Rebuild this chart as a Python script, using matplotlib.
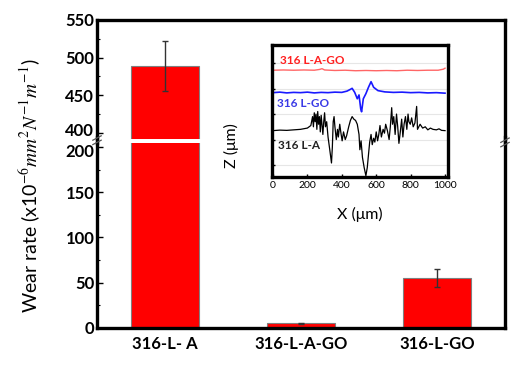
import matplotlib.pyplot as plt
import numpy as np
from matplotlib.lines import Line2D
from matplotlib.transforms import ScaledTranslation

plt.rcParams["font.family"] = ["Lato", "DejaVu Sans"]
plt.rcParams["mathtext.fontset"] = "stix"

# bar data
samples = ["316-L- A", "316-L-A-GO", "316-L-GO"]
wear_rate = [489, 5, 55]
wear_err = [33, 1, 10]

# inset surface profiles (X in um, Z in arbitrary offset units)
red_x = [0, 60, 120, 180, 240, 270, 285, 300, 360, 420, 480, 540, 600, 660, 720, 780, 840, 900, 960, 990, 1000]
red_z = [3.72, 3.73, 3.72, 3.73, 3.72, 3.75, 3.78, 3.73, 3.71, 3.72, 3.70, 3.71, 3.70, 3.71, 3.70, 3.72, 3.71,
         3.72, 3.72, 3.76, 3.80]

blue_x = [0, 40, 80, 120, 160, 200, 240, 280, 320, 360, 400, 430, 450, 460, 475, 490, 500, 510, 515, 525, 540,
          555, 570, 585, 610, 650, 700, 750, 800, 850, 900, 950, 1000]
blue_z = [2.84, 2.86, 2.83, 2.85, 2.84, 2.86, 2.83, 2.85, 2.84, 2.86, 2.85, 2.90, 2.97, 3.01, 2.85, 2.60, 2.75,
          2.20, 2.09, 2.60, 2.80, 3.05, 3.27, 3.05, 2.92, 2.87, 2.85, 2.86, 2.84, 2.85, 2.83, 2.84, 2.82]

black_x = [0, 40, 80, 120, 160, 200, 220, 230, 235, 240, 245, 250, 255, 260, 265, 270, 275, 280, 290, 295, 300,
           305, 312, 320, 330, 340, 345, 350, 355, 360, 368, 375, 380, 388, 395, 402, 410, 420, 428, 440, 450, 460,
           470, 480, 490, 500, 505, 512, 520, 530, 540, 548, 555, 562, 570, 577, 585, 592, 600, 608, 615, 622, 630,
           640, 648, 655, 665, 675, 682, 690, 695, 702, 710, 718, 725, 732, 740, 748, 755, 762, 770, 778, 785, 790,
           798, 806, 815, 825, 835, 840, 855, 870, 885, 900, 915, 930, 950, 965, 980, 1000]
black_z = [1.35, 1.37, 1.36, 1.38, 1.40, 1.45, 1.55, 1.90, 1.50, 2.05, 1.70, 2.00, 1.40, 2.10, 1.60, 1.90, 1.30,
           1.95, 1.20, 1.70, 2.05, 1.50, 1.70, 1.10, 0.60, 0.08, 0.70, 1.70, 1.90, 1.50, 1.00, 1.40, 1.10, 1.60,
           1.25, 0.95, 1.30, 1.00, 1.15, 1.50, 1.75, 1.90, 1.80, 1.75, 1.60, 1.20, 0.60, 0.95, 0.30, -0.10, -0.42,
           -0.10, 0.40, 0.90, 1.20, 0.80, 1.05, 0.90, 1.30, 0.95, 1.20, 1.55, 1.10, 1.40, 1.25, 1.60, 1.35, 1.00,
           1.50, 2.25, 1.60, 1.90, 1.20, 2.00, 1.50, 0.85, 1.30, 1.80, 1.10, 1.60, 1.90, 1.40, 2.00, 1.70, 1.60,
           1.85, 1.50, 1.65, 2.30, 1.40, 1.60, 1.45, 1.50, 1.38, 1.45, 1.40, 1.38, 1.42, 1.36, 1.35]

fig = plt.figure(figsize=(5.23, 3.67), dpi=100)
ax_top = fig.add_axes([0.1855, 0.6213, 0.7801, 0.3243])
ax_bot = fig.add_axes([0.1855, 0.1063, 0.7801, 0.5041])

pos = np.arange(len(samples))
for ax in (ax_top, ax_bot):
    ax.bar(pos, wear_rate, width=0.5, color="#ff0000", edgecolor="#7f7f7f", linewidth=0.8, zorder=2)
    ax.errorbar(pos, wear_rate, yerr=wear_err, fmt="none", ecolor="#333333", elinewidth=1.0, capsize=2, zorder=3)
    ax.set_xlim(-0.5, 2.5)
    for side in ("left", "right", "top", "bottom"):
        ax.spines[side].set_linewidth(2.4)
    ax.tick_params(axis="y", direction="in", length=4, width=1, labelsize=12, pad=2)
    ax.tick_params(axis="y", which="minor", direction="in", length=2.5, width=0.8)
    ax.tick_params(axis="x", length=0)

ax_top.set_ylim(392, 550)
ax_top.set_yticks([400, 450, 500, 550])
ax_top.set_yticks([425, 475, 525], minor=True)
ax_top.spines["bottom"].set_visible(False)
ax_top.set_xticks([])

ax_bot.set_ylim(0, 204.4)
ax_bot.set_yticks([0, 50, 100, 150, 200])
ax_bot.set_yticks([25, 75, 125, 175], minor=True)
ax_bot.spines["top"].set_visible(False)
ax_bot.set_xticks(pos)
ax_bot.set_xticklabels(samples, fontsize=12, fontweight="bold")
ax_bot.tick_params(axis="x", pad=6)

for ax in (ax_top, ax_bot):
    for lab in ax.get_yticklabels():
        lab.set_fontweight("bold")

# nudge the two labels at the axis break apart a little
lab400 = ax_top.get_yticklabels()[0]
lab400.set_transform(lab400.get_transform() + ScaledTranslation(0, 2.5 / 72, fig.dpi_scale_trans))
lab200 = ax_bot.get_yticklabels()[-1]
lab200.set_transform(lab200.get_transform() + ScaledTranslation(0, -2.5 / 72, fig.dpi_scale_trans))

# continuous side spines across the break, with break marks
for xf in (0.1855, 0.1855 + 0.7801):
    fig.add_artist(Line2D([xf, xf], [0.6100, 0.6260], color="black", lw=2.4))
for xf, yf in ((0.1855, 0.618), (0.9656, 0.612)):
    for dy in (-0.006, 0.006):
        fig.add_artist(Line2D([xf - 0.008, xf + 0.008], [yf + dy - 0.006, yf + dy + 0.006],
                              color="#555555", lw=0.9))

fig.text(0.058, 0.495, "Wear rate (x10$^{-6}$$mm^{2}N^{-1}m^{-1}$)", rotation=90,
         ha="center", va="center", fontsize=14)

# inset profile
ax_in = fig.add_axes([0.520, 0.5177, 0.3365, 0.3597])
ax_in.plot(red_x, red_z, color="#ff6666", lw=1.0)
ax_in.plot(blue_x, blue_z, color="#1a1aff", lw=1.2)
ax_in.plot(black_x, black_z, color="black", lw=0.9)
ax_in.set_xlim(-6, 1017)
ax_in.set_ylim(-0.47, 4.71)
ax_in.set_yticks([0, 1, 2, 3, 4])
ax_in.set_yticklabels([])
ax_in.set_xticks([0, 200, 400, 600, 800, 1000])
ax_in.grid(axis="y", color="#e6e6e6", lw=0.8)
ax_in.tick_params(direction="in", length=2.5, width=1, labelsize=7.5, pad=3)
for side in ("left", "right", "top", "bottom"):
    ax_in.spines[side].set_linewidth(2.4)
ax_in.set_xlabel("X (\u03bcm)", fontsize=11.5, labelpad=12)
ax_in.set_ylabel("Z (\u03bcm)", fontsize=11.5)
ax_in.yaxis.set_label_coords(-0.19, 0.24)
ax_in.text(40, 4.09, "316 L-A-GO", color="#ff2020", fontsize=8.5, fontweight="bold", va="center")
ax_in.text(25, 2.43, "316 L-GO", color="#3a3ae6", fontsize=8.5, fontweight="bold", va="center")
ax_in.text(30, 0.78, "316 L-A", color="#222222", fontsize=8.5, fontweight="bold", va="center")

fig.savefig("out.png", dpi=100)
